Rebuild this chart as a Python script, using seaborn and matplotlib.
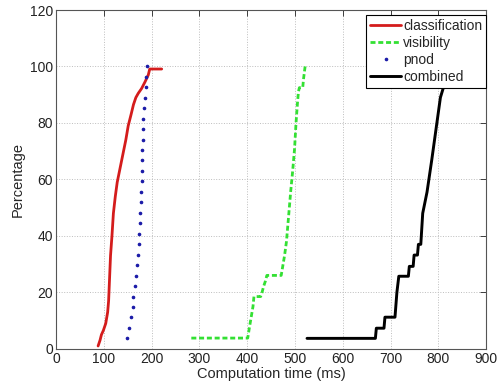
import matplotlib
matplotlib.use('Agg')
import matplotlib.pyplot as plt
import seaborn as sns

# values (time in ms, cumulative percentage)
cls_time = [88, 92, 95, 99, 104, 108, 110, 112, 114, 117, 120, 124, 128, 134, 140,
            146, 151, 157, 162, 167, 172, 179, 186, 193, 196, 221]
cls_pct = [1, 3, 5, 6.5, 9, 13, 17, 25, 33, 40, 48, 54, 59, 64, 69,
           74, 79, 83, 86.5, 89, 90.5, 92.2, 94.5, 97, 99.1, 99.1]

vis_time = [283, 401, 404, 408, 412, 414, 428, 431, 434, 438, 441, 471, 474, 478,
            482, 485, 488, 491, 495, 499, 502, 505, 507, 509, 516, 518, 521]
vis_pct = [3.8, 3.8, 7, 11, 15, 18.5, 18.5, 20, 22, 24, 26, 26, 29, 33,
           38, 44, 50, 56, 63, 71, 80, 87, 91, 92.5, 92.5, 96, 100]

pnod_time = [149, 153, 156, 160, 162, 165, 167, 170, 172, 174, 174, 176, 176, 177,
             177, 179, 179, 179, 180, 181, 181, 181, 184, 186, 188, 189, 191]
pnod_pct = [3.7, 7.4, 11.1, 14.8, 18.5, 22.2, 25.9, 29.6, 33.3, 37.0, 40.7, 44.4, 48.1, 51.9,
            55.6, 59.3, 63.0, 66.7, 70.4, 74.1, 77.8, 81.5, 85.2, 88.9, 92.6, 96.3, 100.0]

comb_time = [525, 668, 670, 686, 688, 709, 713, 717, 737, 739, 747, 749, 756, 758,
             763, 767, 776, 786, 795, 804, 812, 818]
comb_pct = [3.7, 3.7, 7.3, 7.3, 11.2, 11.2, 20, 25.7, 25.7, 29.2, 29.2, 33.2, 33.2, 37,
            37, 48, 55.5, 67, 78, 89, 93.5, 100]

sns.set_style('white')
plt.rcParams['font.family'] = ['Liberation Sans', 'DejaVu Sans']
plt.rcParams['xtick.direction'] = 'in'
plt.rcParams['ytick.direction'] = 'in'

fig = plt.figure(figsize=(4.98, 3.85), dpi=100)
ax = fig.add_axes([0.1125, 0.094, 0.864, 0.88])

sns.lineplot(x=cls_time, y=cls_pct, ax=ax, sort=False, estimator=None,
             color='#d41c1c', lw=2.0, label='classification')
sns.lineplot(x=vis_time, y=vis_pct, ax=ax, sort=False, estimator=None,
             color='#33e033', lw=2.0, ls=(0, (1.8, 1.0)), label='visibility')
ax.plot(pnod_time, pnod_pct, ls='none', marker='.', ms=3.2, color='#1c1ca8', label='pnod')
sns.lineplot(x=comb_time, y=comb_pct, ax=ax, sort=False, estimator=None,
             color='black', lw=2.1, label='combined')

ax.set_xlim(0, 900)
ax.set_ylim(0, 120)
ax.set_xticks(range(0, 901, 100))
ax.set_yticks(range(0, 121, 20))
ax.grid(True, ls=':', lw=0.7, color='#bdbdbd')
for s in ax.spines.values():
    s.set_color('#555555')
    s.set_linewidth(0.8)
ax.tick_params(labelsize=10, colors='#222222', length=4, width=0.6, pad=2,
               top=True, right=True)
ax.set_xlabel('Computation time (ms)', fontsize=10.5, labelpad=1)
ax.set_ylabel('Percentage', fontsize=10.5, labelpad=4)

leg = ax.legend(loc='upper right', bbox_to_anchor=(1.0, 0.985), borderaxespad=0,
                fontsize=10, frameon=True, fancybox=False, edgecolor='black',
                framealpha=1, labelspacing=0.2, handlelength=2.2, handletextpad=0.15,
                borderpad=0.3)
leg.get_frame().set_linewidth(0.8)

fig.savefig('out.png', dpi=100)
